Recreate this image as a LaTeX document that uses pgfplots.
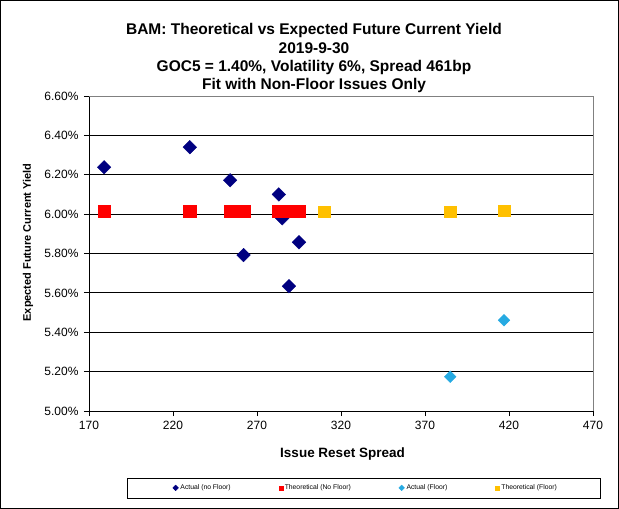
\documentclass[border=0pt]{standalone}
\usepackage{fontspec}
\setmainfont{Liberation Sans}
\usepackage{pgfplots}
\pgfplotsset{compat=1.18}

\definecolor{navyblue}{RGB}{0,0,128}
\definecolor{floorblue}{RGB}{38,170,226}
\definecolor{floorgold}{RGB}{255,192,0}

\begin{document}
\begin{tikzpicture}
\useasboundingbox (0pt,0pt) rectangle (619pt,509pt);
\draw[line width=1pt] (0.5pt,0.5pt) rectangle (618.5pt,508.5pt);

% titles
\node[font=\fontsize{15.5}{17}\selectfont\bfseries] at (314pt,479pt) {BAM: Theoretical vs Expected Future Current Yield};
\node[font=\fontsize{15.5}{17}\selectfont\bfseries] at (314pt,461pt) {2019-9-30};
\node[font=\fontsize{15.5}{17}\selectfont\bfseries] at (314pt,442pt) {GOC5 = 1.40\%, Volatility  6\%, Spread 461bp};
\node[font=\fontsize{15.5}{17}\selectfont\bfseries] at (314pt,424pt) {Fit with Non-Floor Issues Only};

% legend frame
\draw[line width=0.8pt] (127pt,11pt) rectangle (600pt,31pt);

\begin{axis}[
  at={(89pt,98pt)}, anchor=south west,
  scale only axis, width=504pt, height=315pt,
  xmin=170, xmax=470, ymin=5.0, ymax=6.6,
  axis x line=bottom, axis y line=left,
  axis line style={-, black, line width=0.8pt},
  xtick={170,220,...,470},
  ytick={5.0,5.2,5.4,5.6,5.8,6.0,6.2,6.4,6.6},
  yticklabels={5.00\%,5.20\%,5.40\%,5.60\%,5.80\%,6.00\%,6.20\%,6.40\%,6.60\%},
  /pgf/number format/assume math mode=true,
  ticklabel style={font=\fontsize{12}{14}\selectfont},
  yticklabel style={xshift=-2pt},
  xticklabel style={yshift=-2pt},
  tick align=outside, major tick length=5pt,
  tick style={black, line width=0.8pt},
  ymajorgrids, major grid style={black, line width=0.8pt},
  xlabel={Issue Reset Spread},
  ylabel={Expected Future Current Yield},
  xlabel style={font=\fontsize{13.5}{15}\selectfont\bfseries, at={(axis description cs:0.503,-0.135)}, anchor=center},
  ylabel style={font=\fontsize{11}{13}\selectfont\bfseries, at={(axis description cs:-0.121,0.535)}, anchor=center},
  legend columns=4,
  legend style={at={(axis description cs:0.16,-0.244)}, anchor=west, draw=none, fill=none,
    font=\fontsize{6.8}{8}\selectfont, /tikz/every even column/.append style={column sep=46pt}},
  legend image code/.code={\draw[#1, mark size=2pt] plot coordinates {(0.1cm,0cm)};},
  clip=false,
]
\addplot[only marks, mark=square*, mark size=4.8pt, mark options={rotate=45, fill=navyblue, draw=navyblue}] coordinates {
  (179,6.238) (230,6.340) (254,6.172) (283,6.100) (285,5.979) (295,5.857) (262,5.792) (289,5.634)
};
\addlegendentry{Actual (no Floor)}
\addplot[only marks, mark=square*, mark size=6.3pt, mark options={fill=red, draw=red}] coordinates {
  (179,6.015) (230,6.015) (254,6.015) (262,6.015) (283,6.015) (285,6.015) (289,6.015) (295,6.015)
};
\addlegendentry{Theoretical (No Floor)}
\addplot[only marks, mark=square*, mark size=4.1pt, mark options={rotate=45, fill=floorblue, draw=floorblue}] coordinates {
  (385,5.174) (417,5.461)
};
\addlegendentry{Actual (Floor)}
\addplot[only marks, mark=square*, mark size=5.8pt, mark options={fill=floorgold, draw=floorgold}] coordinates {
  (310,6.013) (385,6.013) (417,6.017)
};
\addlegendentry{Theoretical (Floor)}
\draw[gray, line width=0.8pt] (rel axis cs:0,1) -- (rel axis cs:1,1) -- (rel axis cs:1,0);
\end{axis}
\end{tikzpicture}
\end{document}
